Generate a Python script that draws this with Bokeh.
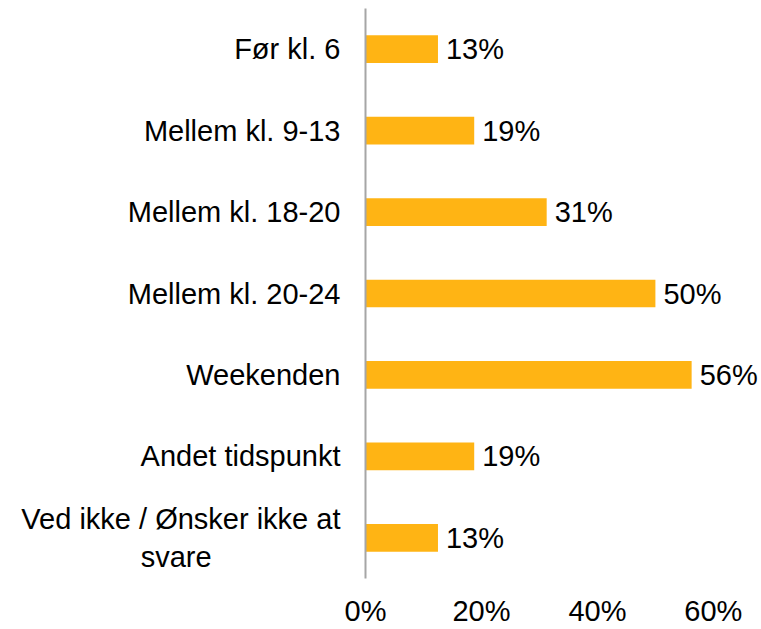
from bokeh.plotting import figure
from bokeh.models import ColumnDataSource, FactorRange, Range1d, FixedTicker, CustomJSTickFormatter
from bokeh.embed import file_html
from bokeh.resources import INLINE
from bokeh.core.properties import value

# the non-breaking spaces only centre the second line under the first (axis labels are right-aligned)
categories = ["Før kl. 6", "Mellem kl. 9-13", "Mellem kl. 18-20", "Mellem kl. 20-24",
              "Weekenden", "Andet tidspunkt",
              "Ved ikke / Ønsker ikke at\nsvare" + "\u00a0" * 16]
values = [12.5, 18.75, 31.25, 50.0, 56.25, 18.75, 12.5]
value_labels = ["13%", "19%", "31%", "50%", "56%", "19%", "13%"]
x_ticks = [0, 20, 40, 60]

FONT = "Liberation Sans"
FS = "29px"
src = ColumnDataSource(dict(cat=categories, val=values, lab=value_labels))

p = figure(width=761, height=629, output_backend="svg", toolbar_location=None,
           y_range=FactorRange(factors=list(reversed(categories))),
           x_range=Range1d(0, 68.3),
           min_border_left=365, min_border_right=0, min_border_top=8, min_border_bottom=49)
p.outline_line_color = None
p.grid.grid_line_color = None

p.hbar(y="cat", right="val", left=0, height=0.34, source=src, color="#FFB414", line_color=None)
p.text(x="val", y="cat", text="lab", source=src, x_offset=8, text_align="left",
       text_baseline="middle", text_font=value(FONT), text_font_size=FS, text_color="#000000")

p.xaxis.ticker = FixedTicker(ticks=x_ticks)
p.xaxis.formatter = CustomJSTickFormatter(code="return tick + '%';")
p.xaxis.axis_line_color = None
p.xaxis.major_tick_line_color = None
p.xaxis.minor_tick_line_color = None
p.xaxis.major_tick_out = 0
p.xaxis.major_tick_in = 0
p.xaxis.major_label_standoff = 16
p.xaxis.major_label_text_font = FONT
p.xaxis.major_label_text_font_size = FS
p.xaxis.major_label_text_color = "#000000"

p.yaxis.axis_line_color = "#A6A6A6"
p.yaxis.axis_line_width = 2
p.yaxis.major_tick_line_color = None
p.yaxis.minor_tick_line_color = None
p.yaxis.major_tick_out = 0
p.yaxis.major_tick_in = 0
p.yaxis.major_label_standoff = 25
p.yaxis.major_label_text_font = FONT
p.yaxis.major_label_text_font_size = FS
p.yaxis.major_label_text_color = "#000000"

open("out.html", "w").write(file_html(p, INLINE))
